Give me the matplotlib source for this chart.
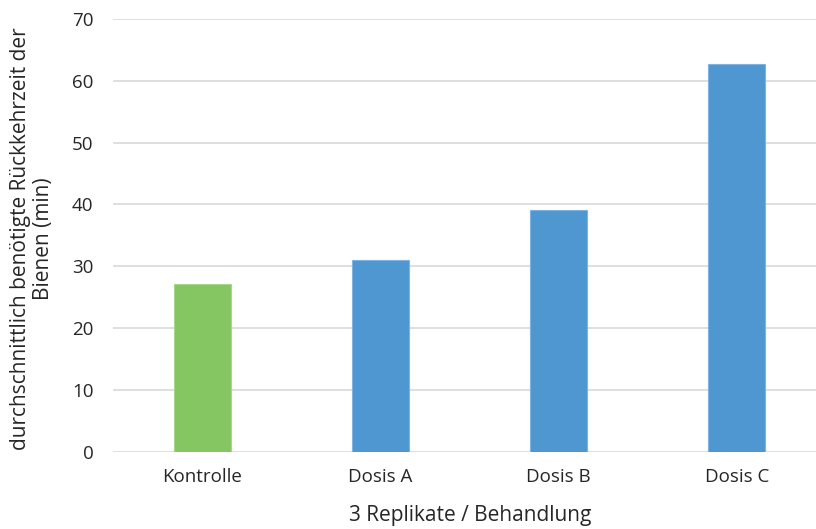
import matplotlib
matplotlib.use("Agg")
import matplotlib.pyplot as plt

categories = ["Kontrolle", "Dosis A", "Dosis B", "Dosis C"]
values = [27.2, 31.0, 39.1, 62.8]
colors = ["#86C662", "#4F97D1", "#4F97D1", "#4F97D1"]
edge_colors = ["#A6D88A", "#7FB3E0", "#7FB3E0", "#7FB3E0"]
yticks = [0, 10, 20, 30, 40, 50, 60, 70]

plt.rcParams['font.family'] = ['Open Sans', 'DejaVu Sans']

fig = plt.figure(figsize=(8.16, 5.29), dpi=100)
ax = fig.add_axes([113/816, 77.3/529, 713/816, 432.7/529])
x = list(range(len(categories)))
ax.bar(x, values, width=0.32, color=colors, edgecolor=edge_colors, linewidth=0.8, zorder=3)
ax.set_xlim(-0.5, 3.5)
ax.set_ylim(0, 70)
ax.set_yticks(yticks)
ax.set_xticks(x)
ax.set_xticklabels(categories)
ax.tick_params(axis='both', length=0, labelsize=13.5, colors='#262626')
ax.tick_params(axis='y', pad=14)
ax.tick_params(axis='x', pad=12)
for s in ax.spines.values():
    s.set_visible(False)
ax.grid(axis='y', color='#D9D9D9', linewidth=1.2, zorder=0)
ax.set_axisbelow(True)
ax.set_ylabel("durchschnittlich benötigte Rückkehrzeit der\nBienen (min)", fontsize=15.0, color='#262626', linespacing=1.1)
ax.yaxis.label.set_va('center')
ax.yaxis.set_label_coords((32-113)/713, (451.7-239)/432.7)
ax.set_xlabel("3 Replikate / Behandlung", fontsize=15, color='#262626')
ax.xaxis.label.set_va('center')
ax.xaxis.set_label_coords((470-113)/713, -(516-451.7)/432.7)
fig.savefig("out.png", dpi=100)
